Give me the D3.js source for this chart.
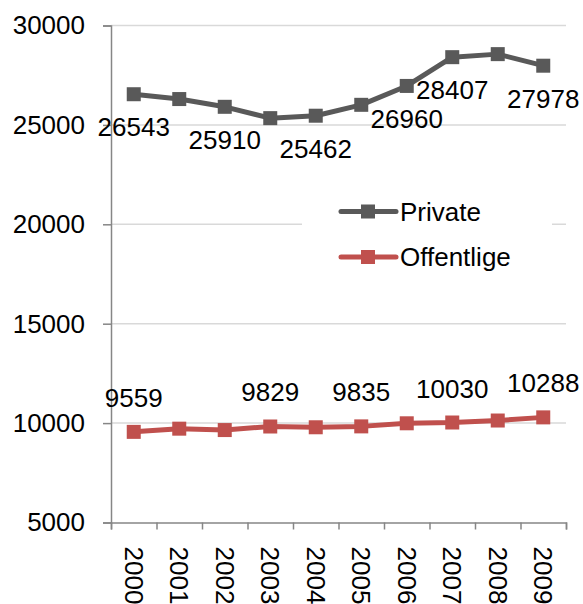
<!DOCTYPE html>
<html>
<head>
<meta charset="utf-8">
<script src="https://cdn.jsdelivr.net/npm/d3@7"></script>
<style>
  body { margin: 0; background: #fff; }
  text { font-family: "Liberation Sans", Arial, sans-serif; }
</style>
</head>
<body>
<div id="chart_area"></div>
<script>
// data
var years = ["2000", "2001", "2002", "2003", "2004", "2005", "2006", "2007", "2008", "2009"]
var privateVals = [26543, 26300, 25910, 25340, 25462, 26010, 26960, 28407, 28560, 27978]
var offentligeVals = [9559, 9720, 9650, 9829, 9790, 9835, 9990, 10030, 10130, 10288]
// which points carry a value label
var privateLabelled = ["2000", "2002", "2004", "2006", "2007", "2009"]
var offentligeLabelled = ["2000", "2003", "2005", "2007", "2009"]
var yTicks = [5000, 10000, 15000, 20000, 25000, 30000]
var seriesNames = ["Private", "Offentlige"]

var W = 583, H = 604
var plot = {left: 111, right: 566, top: 25.5, bottom: 522.5}

var svg = d3.select("#chart_area")
  .append("svg")
    .attr("width", W)
    .attr("height", H)

var colors = {Private: "#595959", Offentlige: "#c0504d"}

// scales
var x = d3.scaleBand()
    .domain(years)
    .range([plot.left, plot.right])
var cx = function(d){ return x(d) + x.bandwidth() / 2 }

var y = d3.scaleLinear()
    .domain([5000, 30000])
    .range([plot.bottom, plot.top])

// gridlines
svg.append("g")
  .selectAll("line")
  .data(yTicks.slice(1))
  .enter()
  .append("line")
    .attr("x1", plot.left)
    .attr("x2", plot.right)
    .attr("y1", function(d){ return y(d) })
    .attr("y2", function(d){ return y(d) })
    .attr("stroke", "#d9d9d9")
    .attr("stroke-width", 1.5)

// y axis
var yAxis = svg.append("g")
  .attr("transform", "translate(" + plot.left + ",0)")
  .call(d3.axisLeft(y).tickValues(yTicks).tickSize(8).tickPadding(18).tickFormat(d3.format("d")))
yAxis.select(".domain").attr("stroke", "#868686").attr("stroke-width", 1.5)
yAxis.selectAll(".tick line").attr("stroke", "#868686").attr("stroke-width", 1.5)
yAxis.selectAll(".tick text")
  .attr("font-size", "26px")
  .attr("font-family", "Liberation Sans, Arial, sans-serif")
  .attr("fill", "#000")

// x axis: ticks sit between the categories
var xi = d3.scaleLinear().domain([0, years.length]).range([plot.left, plot.right])
var xAxis = svg.append("g")
  .attr("transform", "translate(0," + plot.bottom + ")")
  .call(d3.axisBottom(xi).ticks(years.length).tickSize(7).tickFormat(""))
xAxis.select(".domain").attr("stroke", "#868686").attr("stroke-width", 1.5)
xAxis.selectAll(".tick line").attr("stroke", "#868686").attr("stroke-width", 1.5)

svg.append("g")
  .selectAll("text")
  .data(years)
  .enter()
  .append("text")
    .attr("transform", function(d){ return "translate(" + cx(d) + "," + (plot.bottom + 24) + ") rotate(90)" })
    .attr("dy", "0.35em")
    .attr("font-size", "26px")
    .attr("fill", "#000")
    .text(function(d){ return d })

// lines + markers
var series = [
  {name: "Private", values: privateVals, labelled: privateLabelled, off: 42},
  {name: "Offentlige", values: offentligeVals, labelled: offentligeLabelled, off: -25}
]

var line = d3.line()
    .x(function(d){ return cx(d.year) })
    .y(function(d){ return y(d.v) })

series.forEach(function(s){
  var pts = years.map(function(yr, i){ return {year: yr, v: s.values[i]} })
  svg.append("path")
    .datum(pts)
    .attr("fill", "none")
    .attr("stroke", colors[s.name])
    .attr("stroke-width", 5)
    .attr("stroke-linejoin", "round")
    .attr("d", line)
  svg.append("g")
    .selectAll("rect")
    .data(pts)
    .enter()
    .append("rect")
      .attr("x", function(d){ return cx(d.year) - 7 })
      .attr("y", function(d){ return y(d.v) - 7 })
      .attr("width", 14)
      .attr("height", 14)
      .attr("fill", colors[s.name])
  svg.append("g")
    .selectAll("text")
    .data(pts.filter(function(d){ return s.labelled.indexOf(d.year) >= 0 }))
    .enter()
    .append("text")
      .attr("x", function(d){ return cx(d.year) })
      .attr("y", function(d){ return y(d.v) + s.off })
      .attr("text-anchor", "middle")
      .attr("font-size", "26px")
      .attr("fill", "#000")
      .text(function(d){ return d.v })
})

// legend (white box hides the 20000 gridline)
var legend = svg.append("g")
legend.append("rect")
    .attr("x", 302)
    .attr("y", 192)
    .attr("width", 250)
    .attr("height", 84)
    .attr("fill", "#fff")

seriesNames.forEach(function(n, i){
  var ly = 211.5 + i * 45.5
  legend.append("line")
    .attr("x1", 341).attr("x2", 396)
    .attr("y1", ly).attr("y2", ly)
    .attr("stroke", colors[n])
    .attr("stroke-width", 5)
    .attr("stroke-linecap", "round")
  legend.append("rect")
    .attr("x", 361).attr("y", ly - 7)
    .attr("width", 14).attr("height", 14)
    .attr("fill", colors[n])
  legend.append("text")
    .attr("x", 400)
    .attr("y", ly)
    .attr("dy", "0.35em")
    .attr("font-size", "26px")
    .attr("fill", "#000")
    .text(n)
})
</script>
</body>
</html>
